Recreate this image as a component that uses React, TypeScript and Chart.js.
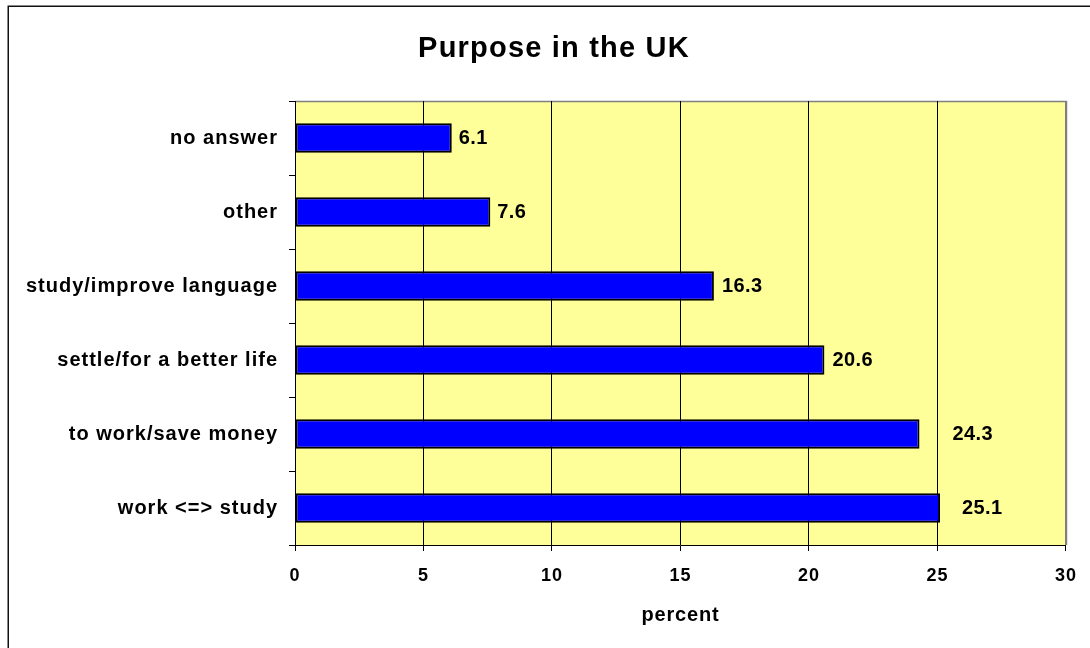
import { useEffect, useRef } from "react";
import { Chart, registerables } from "chart.js";

Chart.register(...registerables);

// Survey answers, listed top to bottom as they appear on the category axis
const categories = [
  "no answer",
  "other",
  "study/improve language",
  "settle/for a better life",
  "to work/save money",
  "work <=> study",
];

// Share of respondents per answer, in percent
const percentValues = [6.1, 7.6, 16.3, 20.6, 24.3, 25.1];

// Value axis range and step
const xAxisMin = 0;
const xAxisMax = 30;
const xAxisStep = 5;

const chartTitle = "Purpose in the UK";
const valueAxisTitle = "percent";

const FONT = '"Liberation Sans", Arial, Helvetica, sans-serif';

// Plot background, frame, title, axis title and value labels
const decorPlugin = {
  id: "decor",
  beforeDraw(chart: any) {
    const { ctx, chartArea: a } = chart;
    ctx.save();
    ctx.fillStyle = "#ffffff";
    ctx.fillRect(0, 0, chart.width, chart.height);
    ctx.fillStyle = "#FFFF99";
    ctx.fillRect(a.left, a.top, a.right - a.left, a.bottom - a.top);
    ctx.strokeStyle = "#808080";
    ctx.lineWidth = 1.5;
    ctx.beginPath();
    ctx.moveTo(a.left, a.top + 0.5);
    ctx.lineTo(a.right + 0.5, a.top + 0.5);
    ctx.lineTo(a.right + 0.5, a.bottom);
    ctx.stroke();
    ctx.restore();
    // spacing used by the axis tick labels
    ctx.letterSpacing = "1px";
  },
  afterDatasetsDraw(chart: any, _args: any, opts: any) {
    const { ctx } = chart;
    const meta = chart.getDatasetMeta(0);
    const values = chart.data.datasets[0].data as number[];
    ctx.save();
    ctx.letterSpacing = "0.4px";
    ctx.fillStyle = "#000";
    ctx.font = `bold 20px ${FONT}`;
    ctx.textAlign = "left";
    ctx.textBaseline = "middle";
    meta.data.forEach((bar: any, i: number) => {
      const gap = (opts.gaps && opts.gaps[i]) ?? 8;
      ctx.fillText(values[i].toFixed(1), bar.x + gap, bar.y);
    });
    ctx.restore();
  },
  afterDraw(chart: any) {
    const { ctx, chartArea: a } = chart;
    ctx.save();
    ctx.fillStyle = "#000";
    ctx.textBaseline = "alphabetic";
    ctx.textAlign = "center";
    ctx.letterSpacing = "1.2px";
    ctx.font = `bold 29px ${FONT}`;
    ctx.fillText(chartTitle, 554, 57);
    ctx.letterSpacing = "0.8px";
    ctx.font = `bold 20px ${FONT}`;
    ctx.fillText(valueAxisTitle, (a.left + a.right) / 2, 621);
    // outer chart frame
    ctx.letterSpacing = "0px";
    ctx.strokeStyle = "#111";
    ctx.lineWidth = 1.5;
    ctx.strokeRect(8.25, 6.25, chart.width + 20, chart.height + 20);
    ctx.restore();
  },
};

export default function App() {
  const canvasRef = useRef<HTMLCanvasElement | null>(null);

  useEffect(() => {
    const canvas = canvasRef.current;
    if (!canvas) return;
    const chart = new Chart(canvas, {
      type: "bar",
      data: {
        labels: categories,
        datasets: [
          {
            data: percentValues,
            backgroundColor: "#0000FF",
            borderColor: "#000000",
            borderWidth: 2,
            borderSkipped: false,
            barPercentage: 0.4,
            categoryPercentage: 1,
          },
        ],
      },
      plugins: [decorPlugin],
      options: {
        indexAxis: "y",
        responsive: false,
        maintainAspectRatio: false,
        devicePixelRatio: 1,
        animation: false,
        events: [],
        layout: { padding: { top: 101, right: 23, left: 0, bottom: 0 } },
        plugins: {
          legend: { display: false },
          title: { display: false },
          tooltip: { enabled: false },
          decor: { gaps: [7, 7, 8, 8, 33, 22] },
        } as any,
        scales: {
          x: {
            type: "linear",
            position: "bottom",
            min: xAxisMin,
            max: xAxisMax,
            ticks: {
              stepSize: xAxisStep,
              color: "#000",
              padding: 14,
              maxRotation: 0,
              font: { family: FONT, size: 18, weight: "bold" },
            },
            grid: {
              color: (c: any) => (c.tick && c.tick.value === xAxisMax ? "#808080" : "#000000"),
              lineWidth: 1,
              drawTicks: true,
              tickLength: 6,
              tickColor: "#000000",
            },
            border: { display: true, color: "#000000", width: 1 },
            afterFit: (s: any) => {
              s.height = 103;
            },
          },
          y: {
            type: "category",
            offset: true,
            ticks: {
              color: "#000",
              padding: 11,
              font: { family: FONT, size: 20, weight: "bold" },
            },
            grid: {
              display: true,
              drawOnChartArea: false,
              offset: true,
              drawTicks: true,
              tickLength: 6,
              color: "#000000",
              tickColor: "#000000",
            },
            border: { display: true, color: "#000000", width: 1 },
            afterFit: (s: any) => {
              s.width = 295;
            },
          },
        },
      } as any,
    });
    return () => chart.destroy();
  }, []);

  return (
    <div
      style={{
        position: "fixed",
        left: 0,
        top: 0,
        width: 1090,
        height: 648,
        background: "#ffffff",
      }}
    >
      <canvas
        ref={canvasRef}
        width={1090}
        height={648}
        style={{ display: "block", width: 1090, height: 648 }}
      />
    </div>
  );
}
